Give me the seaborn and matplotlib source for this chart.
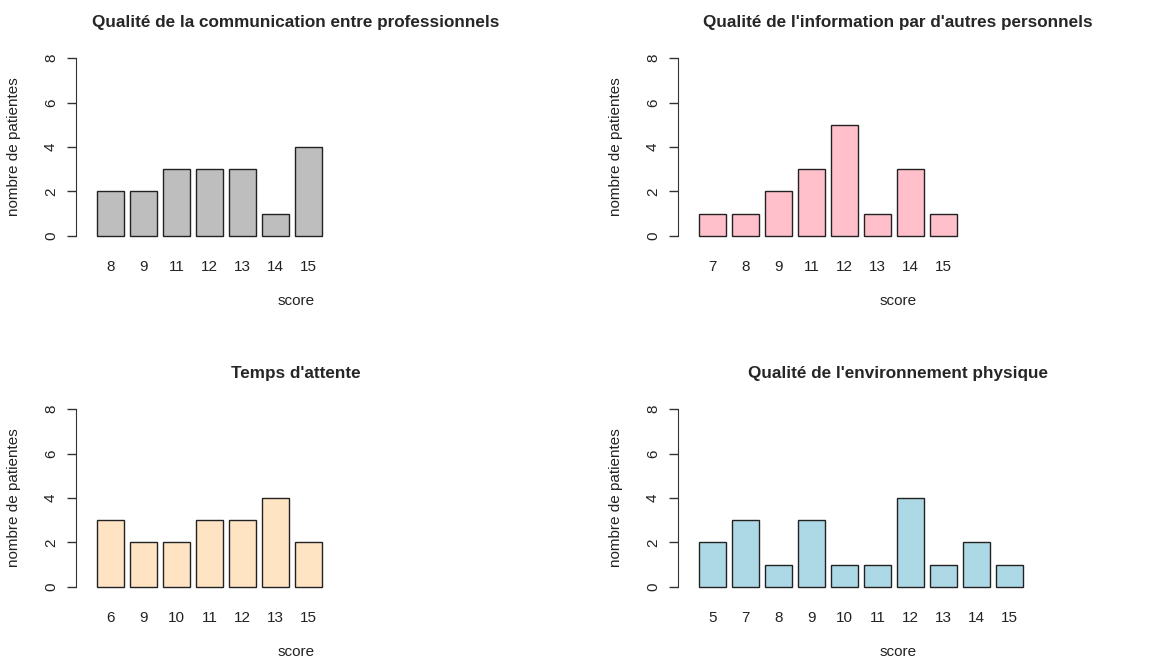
import numpy as np
import pandas as pd
import matplotlib
matplotlib.use('Agg')
import matplotlib.pyplot as plt
import seaborn as sns

titles = ["Qualité de la communication entre professionnels",
          "Qualité de l'information par d'autres personnels",
          "Temps d'attente",
          "Qualité de l'environnement physique"]

scores_comm = ['8', '9', '11', '12', '13', '14', '15']
counts_comm = [2, 2, 3, 3, 3, 1, 4]

scores_info = ['7', '8', '9', '11', '12', '13', '14', '15']
counts_info = [1, 1, 2, 3, 5, 1, 3, 1]

scores_attente = ['6', '9', '10', '11', '12', '13', '15']
counts_attente = [3, 2, 2, 3, 3, 4, 2]

scores_env = ['5', '7', '8', '9', '10', '11', '12', '13', '14', '15']
counts_env = [2, 3, 1, 3, 1, 1, 4, 1, 2, 1]

colors = ['#BEBEBE', '#FFC0CB', '#FFE4C4', '#ADD8E6']

sns.set_style('white')
plt.rcParams['font.family'] = ['Liberation Sans', 'DejaVu Sans']

fig = plt.figure(figsize=(11.52, 6.62), dpi=100)

# axes boxes in pixels (left, top), same size for all panels
W, H = 1152, 662
boxes = [(76, 51), (678, 51), (76, 402), (678, 402)]
aw, ah = 440, 192

panels = [(scores_comm, counts_comm), (scores_info, counts_info),
          (scores_attente, counts_attente), (scores_env, counts_env)]

fs = 11
for i, ((sc, ct), (px, py)) in enumerate(zip(panels, boxes)):
    ax = fig.add_axes([px / W, 1 - (py + ah) / H, aw / W, ah / H])
    df = pd.DataFrame({'score': sc, 'n': ct})
    sns.barplot(data=df, x='score', y='n', ax=ax, color=colors[i],
                saturation=1, width=1 / 1.2, edgecolor='#222222', linewidth=1)
    # R-like scale: bars of width 1 with 0.2 gaps, xlim c(0, 15) and 4% padding
    ax.set_xlim(-1.042, 12.29)
    ax.set_ylim(-0.32, 8.32)
    ax.set_yticks([0, 2, 4, 6, 8])
    for s in ['top', 'right', 'bottom']:
        ax.spines[s].set_visible(False)
    ax.spines['left'].set_bounds(0, 8)
    ax.spines['left'].set_color('#333333')
    ax.tick_params(axis='y', left=True, length=6.5, width=1, color='#333333',
                   pad=6.5, labelsize=fs, labelcolor='#222222')
    for lab in ax.get_yticklabels():
        lab.set_rotation(90)
        lab.set_va('center')
    ax.tick_params(axis='x', length=0, pad=12, labelsize=fs, labelcolor='#222222')
    ax.set_xlabel('score', fontsize=fs, color='#222222', va='center')
    ax.xaxis.set_label_coords(0.5, -0.30)
    ax.set_ylabel('nombre de patientes', fontsize=fs, color='#222222', va='center')
    ax.yaxis.set_label_coords(-0.14, 0.5)
    ax.set_title(titles[i], fontsize=12.3, fontweight='bold', y=1.151, va='center', pad=0)

fig.savefig('out.png', dpi=100)
